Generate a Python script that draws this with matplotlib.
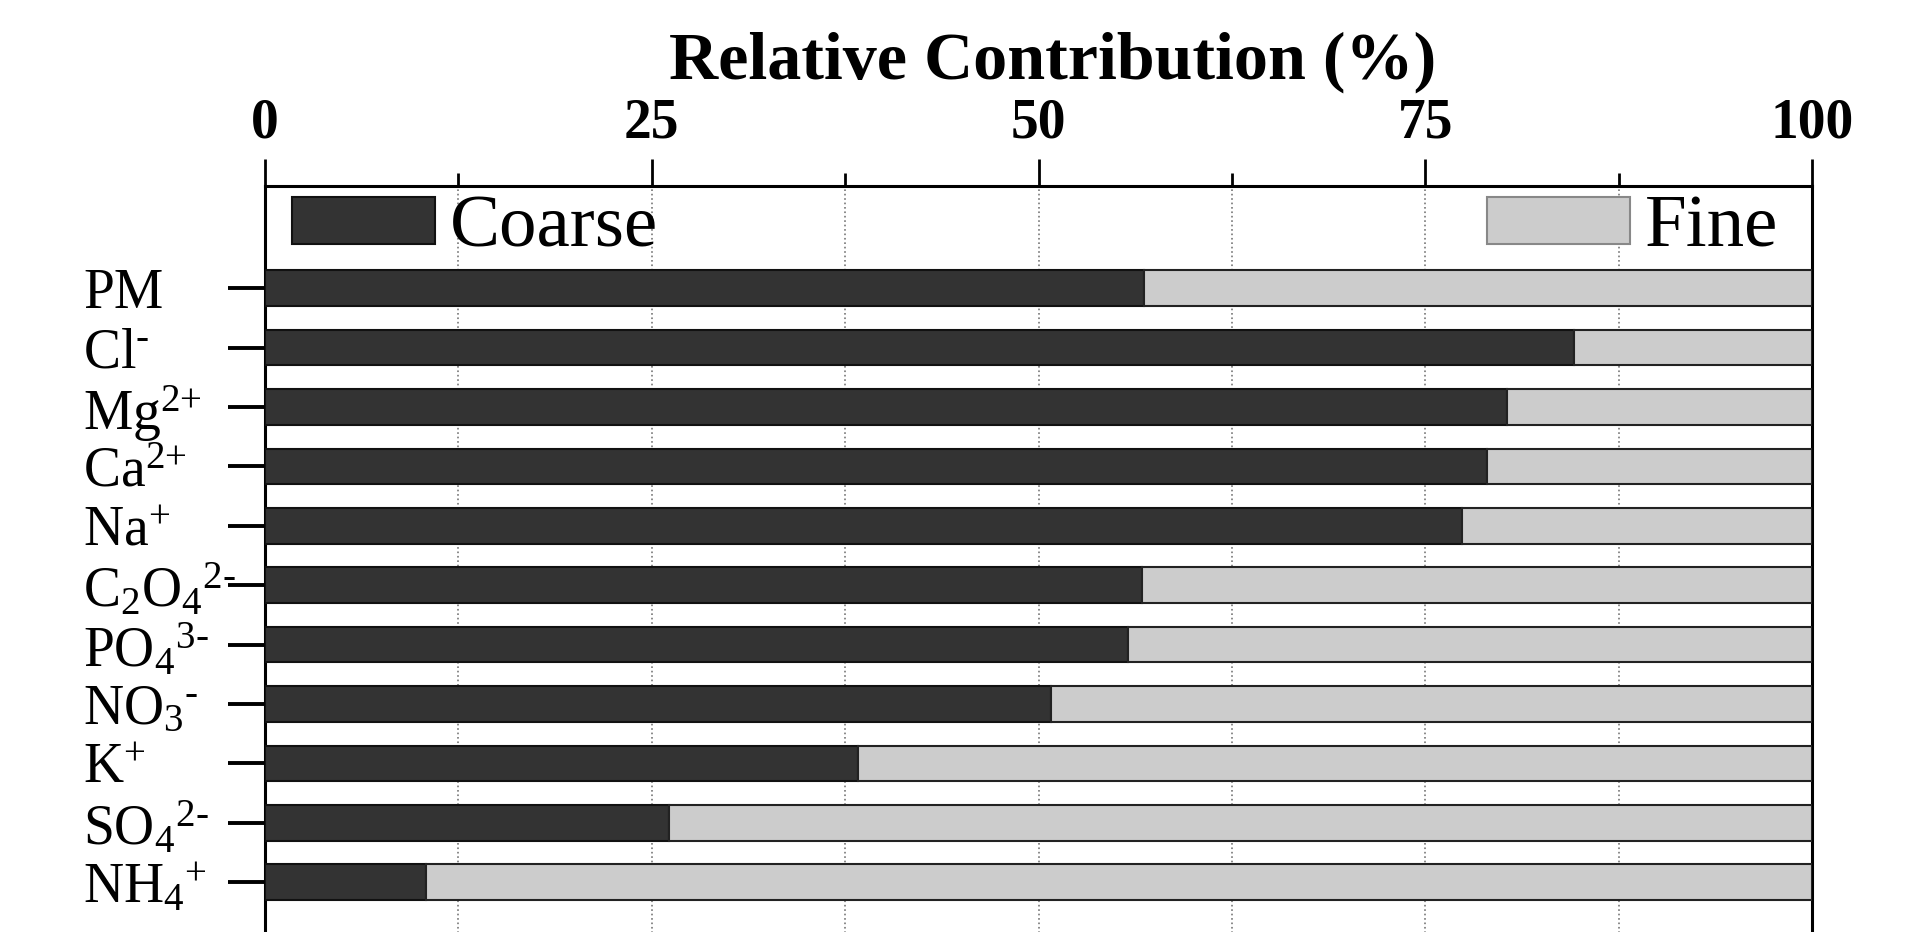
import matplotlib
matplotlib.use("Agg")
import matplotlib.pyplot as plt
from matplotlib.ticker import MultipleLocator
import numpy as np

plt.rcParams['font.family'] = ['Liberation Serif', 'DejaVu Serif']
plt.rcParams['mathtext.fontset'] = 'custom'
plt.rcParams['mathtext.rm'] = 'Liberation Serif'
plt.rcParams['mathtext.it'] = 'Liberation Serif:italic'
plt.rcParams['mathtext.bf'] = 'Liberation Serif:bold'

# Species, top to bottom
species = [r'PM', r'Cl$^{\text{-}}$', r'Mg$^{\text{2+}}$', r'Ca$^{\text{2+}}$',
           r'Na$^{\text{+}}$', r'C$_{2}$O$_{4}{}^{\text{2-}}$',
           r'PO$_{4}{}^{\text{3-}}$', r'NO$_{3}{}^{\text{-}}$',
           r'K$^{\text{+}}$', r'SO$_{4}{}^{\text{2-}}$', r'NH$_{4}{}^{\text{+}}$']
coarse = [56.8, 84.6, 80.3, 79.0, 77.4, 56.7, 55.8, 50.8, 38.3, 26.1, 10.4]
fine = [100 - c for c in coarse]
series_names = ['Coarse', 'Fine']
major_ticks = [0, 25, 50, 75, 100]

fig = plt.figure(figsize=(19.07, 9.32), dpi=100)
ax = fig.add_axes([0.139, -0.0103, 0.8112, 0.8107])

y = np.arange(len(species))
h = 0.6
ax.barh(y, coarse, height=h, color='#333333', edgecolor='#111111',
        linewidth=1.5, label=series_names[0], zorder=3)
ax.barh(y, fine, left=coarse, height=h, color='#cccccc', edgecolor='#222222',
        linewidth=1.5, label=series_names[1], zorder=3)

ax.set_xlim(0, 100)
ax.set_ylim(len(species) - 1 + 1.0, -1.72)

# x axis on top
ax.xaxis.set_ticks_position('top')
ax.xaxis.set_label_position('top')
ax.set_xticks(major_ticks)
ax.xaxis.set_minor_locator(MultipleLocator(12.5))
ax.tick_params(axis='x', which='major', direction='out', length=19.5, width=2,
               pad=7, labelsize=40)
ax.tick_params(axis='x', which='minor', direction='out', length=9.5, width=2)
for lbl in ax.get_xticklabels():
    lbl.set_fontweight('bold')

ax.grid(axis='x', which='both', linestyle=':', color='#777777', linewidth=1.2,
        zorder=0)
ax.set_axisbelow(True)

# y axis labels, left aligned
ax.set_yticks(y)
ax.set_yticklabels(species)
ax.tick_params(axis='y', direction='out', length=27, width=2.8, pad=104,
               labelsize=40)
for lbl in ax.get_yticklabels():
    lbl.set_horizontalalignment('left')

for side in ['left', 'top', 'right']:
    ax.spines[side].set_linewidth(2.2)
    ax.spines[side].set_color('black')
ax.spines['bottom'].set_visible(False)

# two separate legend entries in the top corners
handles, labels = ax.get_legend_handles_labels()
leg1 = ax.legend([handles[0]], [labels[0]], loc='center left',
                 bbox_to_anchor=(0.0175, 0.943), frameon=False, borderpad=0,
                 borderaxespad=0, fontsize=54, handlelength=1.9,
                 handleheight=0.6, handletextpad=0.2)
ax.add_artist(leg1)
leg2 = ax.legend([handles[1]], [labels[1]], loc='center right',
                 bbox_to_anchor=(0.978, 0.943), frameon=False, borderpad=0,
                 borderaxespad=0, fontsize=54, handlelength=1.9,
                 handleheight=0.6, handletextpad=0.2)
for leg in (leg1, leg2):
    for p in leg.get_patches():
        p.set_linewidth(1.5)
leg2.get_patches()[0].set_edgecolor('#888888')

fig.text(1053 / 1907, 1 - 62 / 932, 'Relative Contribution (%)',
         ha='center', va='center', fontsize=49, fontweight='bold')

fig.savefig('out.png', dpi=100)
